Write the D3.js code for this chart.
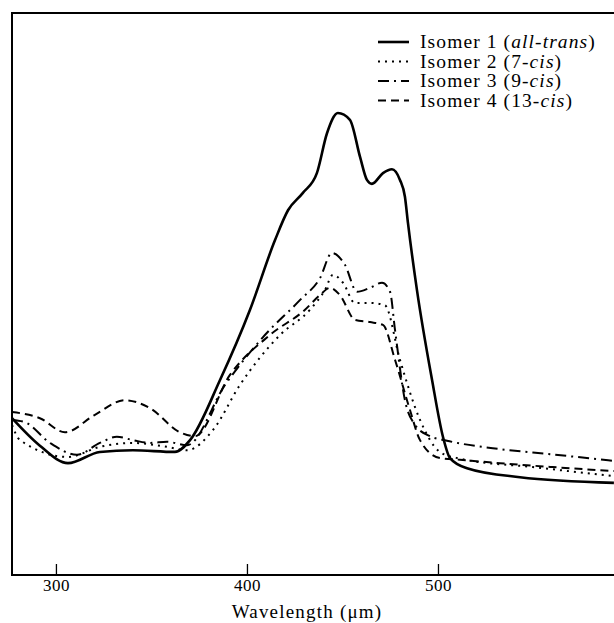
<!DOCTYPE html>
<html>
<head>
<meta charset="utf-8">
<script src="https://cdn.jsdelivr.net/npm/d3@7"></script>
<style>
  body { margin: 0; background: #fff; }
  svg { display: block; }
</style>
</head>
<body>
<div id="chart"></div>
<script>
// Absorption spectra, [wavelength, relative absorbance]
const isomer1 = [[277, 27.9], [291.6, 23.0], [306.3, 19.9], [323, 21.9], [340.3, 22.2], [362.3, 21.9],
  [370.2, 24.0], [385.9, 34.7], [401.6, 47.2], [414.7, 59.6], [421.5, 64.9], [429.3, 68.0],
  [436.6, 71.5], [441.9, 78.6], [447.6, 82.2], [453.9, 81.0], [459.2, 74.4], [462.8, 70.3],
  [465.4, 69.6], [471.2, 71.5], [475.9, 72.2], [480.1, 70.3], [482.7, 67.3], [484.3, 62.6],
  [489, 50.7], [496.9, 34.7], [502.6, 24.6], [506.3, 20.8], [515.2, 19.0], [542.9, 17.4], [592.1, 16.4]];
const isomer2 = [[277, 26.7], [281.2, 24.0], [306.3, 21.0], [323, 22.8], [340.3, 23.5], [358.1, 22.8],
  [368.6, 22.2], [382.2, 25.8], [396.3, 33.8], [417.3, 42.7], [433, 47.2], [440.8, 50.7],
  [445, 53.4], [450.3, 52.0], [456.5, 48.4], [464.4, 48.4], [472.2, 48.0], [480.1, 38.3],
  [490.6, 27.6], [501, 21.9], [511.5, 20.7], [549.7, 19.2], [592.1, 17.6]];
const isomer3 = [[277, 27.6], [283.8, 27.2], [296.9, 23.5], [311, 21.4], [323, 23.5], [331.9, 24.6],
  [340.3, 24.0], [349.2, 23.5], [358.1, 23.7], [368.6, 23.1], [388.5, 33.8], [409.4, 42.7],
  [427.7, 48.9], [438.2, 52.8], [444.5, 57.3], [451.3, 55.2], [457.6, 50.4], [464.4, 51.1],
  [470.7, 52.0], [474.9, 50.4], [477.5, 43.6], [482.7, 31.1], [488, 26.7], [495.8, 24.7],
  [504.7, 23.9], [532.5, 22.4], [558.6, 21.5], [592.1, 20.3]];
const isomer4 = [[277, 29.0], [291.6, 27.9], [304.7, 25.4], [320.4, 28.5], [336.1, 31.1], [349.2, 29.7],
  [364.9, 25.4], [372.8, 24.7], [391.1, 35.6], [412, 42.7], [430.4, 47.2], [438.2, 49.8],
  [443.5, 51.1], [448.7, 49.8], [456.5, 45.4], [464.4, 45.0], [471.2, 44.5], [477.5, 38.3],
  [485.3, 29.4], [490.6, 24.0], [501, 20.8], [511.5, 20.5], [532.5, 19.9], [560, 19.2], [592.1, 18.5]];

const xTicks = [300, 400, 500];
const legendNames = ["Isomer 1", "Isomer 2", "Isomer 3", "Isomer 4"];
const legendForms = [["all-trans", ""], ["7-", "cis"], ["9-", "cis"], ["13-", "cis"]];

const W = 614, H = 623;
const plotL = 12, plotT = 13, plotB = 575, plotR = 629;
const serif = "'Liberation Serif', 'Times New Roman', serif";

const svg = d3.select("#chart").append("svg")
  .attr("width", W)
  .attr("height", H);

// scales
const x = d3.scaleLinear().domain([277, 600]).range([plotL, plotR]);
const y = d3.scaleLinear().domain([0, 100]).range([plotB, plotT]);

// frame
svg.append("path")
  .attr("d", `M${plotR},${plotT}H${plotL}V${plotB}H${plotR}`)
  .attr("fill", "none")
  .attr("stroke", "#000")
  .attr("stroke-width", 2);

// bottom axis, ticks pointing inward
const xAxis = svg.append("g")
  .attr("transform", `translate(0,${plotB})`)
  .call(d3.axisBottom(x).tickValues(xTicks).tickSizeInner(-11).tickSizeOuter(0).tickPadding(4));
xAxis.select(".domain").remove();
xAxis.selectAll("line").attr("stroke-width", 1.3);
xAxis.selectAll("text")
  .style("font-family", serif)
  .style("font-size", "17px")
  .style("letter-spacing", "0.5px")
  .attr("fill", "#000");

svg.append("text")
  .attr("x", 307)
  .attr("y", 618)
  .attr("text-anchor", "middle")
  .style("font-family", serif)
  .style("font-size", "19px")
  .style("letter-spacing", "1.2px")
  .text("Wavelength (\u03bcm)");

// curves
const line = d3.line()
  .x(d => x(d[0]))
  .y(d => y(d[1]))
  .curve(d3.curveMonotoneX);

const styles = [
  { data: isomer1, width: 2.6, dash: null },
  { data: isomer2, width: 2, dash: "2,5" },
  { data: isomer3, width: 2, dash: "11,5,2,5" },
  { data: isomer4, width: 2, dash: "8,5" }
];

svg.append("g").selectAll("path")
  .data(styles)
  .enter().append("path")
  .attr("d", d => line(d.data))
  .attr("fill", "none")
  .attr("stroke", "#000")
  .attr("stroke-width", d => d.width)
  .attr("stroke-dasharray", d => d.dash)
  .attr("stroke-linejoin", "round");

// legend
const legend = svg.append("g").attr("transform", "translate(378,42)");
const row = legend.selectAll("g")
  .data(styles)
  .enter().append("g")
  .attr("transform", (d, i) => `translate(0,${i * 19.5})`);

row.append("line")
  .attr("x1", 0).attr("x2", 31)
  .attr("y1", 0).attr("y2", 0)
  .attr("stroke", "#000")
  .attr("stroke-width", d => d.width)
  .attr("stroke-dasharray", d => d.dash);

const label = row.append("text")
  .attr("x", 42)
  .attr("y", 6)
  .style("font-family", serif)
  .style("font-size", "19.5px")
  .style("letter-spacing", "1.1px");

label.each(function(d, i) {
  const t = d3.select(this);
  t.append("tspan").text(legendNames[i] + " (");
  if (legendForms[i][1] === "") {
    t.append("tspan").style("font-style", "italic").text(legendForms[i][0]);
  } else {
    t.append("tspan").text(legendForms[i][0]);
    t.append("tspan").style("font-style", "italic").text(legendForms[i][1]);
  }
  t.append("tspan").text(")");
});
</script>
</body>
</html>
